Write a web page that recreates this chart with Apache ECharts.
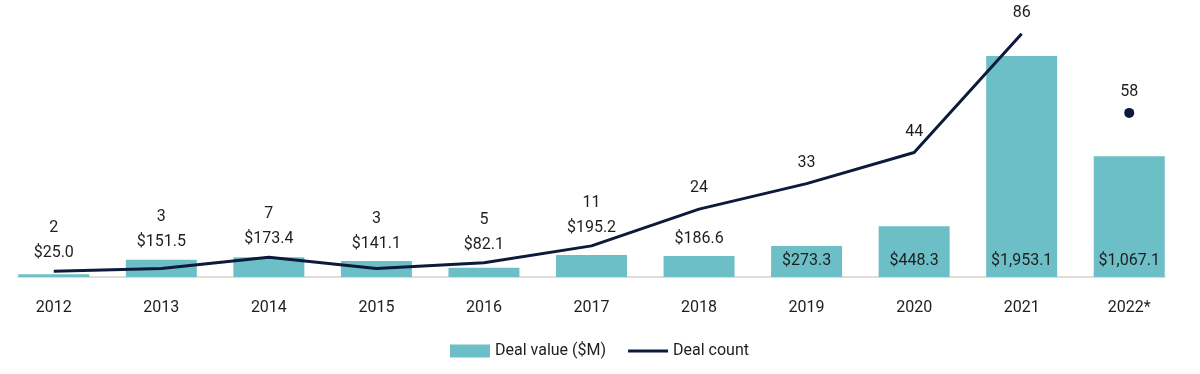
<!DOCTYPE html>
<html><head><meta charset="utf-8">
<script src="https://cdn.jsdelivr.net/npm/echarts@6/dist/echarts.min.js"></script>
<style>html,body{margin:0;padding:0;background:#fff}#c{width:1200px;height:374px}</style>
</head><body><div id="c"></div>
<script>
const categories = ['2012','2013','2014','2015','2016','2017','2018','2019','2020','2021','2022*'];
const dealValue = [25.0,151.5,173.4,141.1,82.1,195.2,186.6,273.3,448.3,1953.1,1067.1];
const dealCount = [2,3,7,3,5,11,24,33,44,86,58];

const BAR_MAX = 2200, LINE_MAX = 88, PLOT_H = 249;
const INSIDE_MIN = 250, MERGE_PX = 20;
const FONT = 'Roboto, "Noto Sans", sans-serif';
const TXT = '#1e1e1e';
const NAVY = '#0d1a3c';
const fmt = v => '$' + v.toLocaleString('en-US', {minimumFractionDigits:1, maximumFractionDigits:1});
const partial = categories.map(c => c.endsWith('*'));

const barData = [], lineData = [], dotData = [], countLabelData = [];
dealValue.forEach((v, i) => {
  const c = dealCount[i];
  const barPx = v / BAR_MAX * PLOT_H, linePx = c / LINE_MAX * PLOT_H;
  const inside = v >= INSIDE_MIN;
  const merge = !inside && !partial[i] && Math.abs(barPx - linePx) < MERGE_PX;
  let barLabel = {show:false}, cntLabel = {show:false};
  if (inside) {
    barLabel = {show:true, position:'insideBottom', distance:4, formatter: fmt(v)};
  } else if (!merge) {
    barLabel = {show:true, position:'top', distance:4, formatter: fmt(v)};
  }
  if (merge) {
    const lbl = {show:true, position:'top', distance:5, formatter: c + '\n' + fmt(v)};
    if (barPx > linePx) barLabel = lbl; else cntLabel = lbl;
  } else {
    cntLabel = {show:true, position:'top', distance:8, formatter: String(c)};
  }
  barData.push({value: v, label: barLabel});
  countLabelData.push({value: c, label: cntLabel});
  lineData.push(partial[i] ? null : c);
  dotData.push(partial[i] ? c : null);
});

const labelBase = {fontFamily: FONT, fontSize: 16, color: TXT, lineHeight: 25, opacity: 1};
const chart = echarts.init(document.getElementById('c'));
chart.setOption({
  animation: false,
  textStyle: {fontFamily: FONT},
  grid: [
    {left: 0, right: 17, top: 28, bottom: 97},
    {left: 18, right: 35, top: 28, bottom: 97}
  ],
  xAxis: [
    {type:'category', data: categories, gridIndex:0, axisLine:{show:false}, axisTick:{show:false},
     axisLabel:{fontFamily: FONT, fontSize: 16, color: TXT, margin: 23}},
    {type:'value', gridIndex:1, min:0, max:1, axisLine:{show:true, onZero:false, lineStyle:{color:'#d4d2cc', width:1.5}},
     axisTick:{show:false}, axisLabel:{show:false}, splitLine:{show:false}}
  ],
  yAxis: [
    {type:'value', gridIndex:0, min:0, max:BAR_MAX, show:false, splitLine:{show:false}},
    {type:'value', gridIndex:0, min:0, max:LINE_MAX, show:false, splitLine:{show:false}},
    {type:'value', gridIndex:1, min:0, max:1, show:false}
  ],
  legend: {
    top: 338, left: 445, itemWidth: 40, itemHeight: 13, itemGap: 22,
    textStyle: {fontFamily: FONT, fontSize: 16, color: TXT},
    data: [
      {name:'Deal value ($M)', icon:'rect'},
      {name:'Deal count', icon:'path://M0,0H40V3H0Z', itemStyle:{color:NAVY}}
    ]
  },
  series: [
    {name:'Deal value ($M)', type:'bar', data: barData, barWidth:'66%', xAxisIndex:0, yAxisIndex:0,
     itemStyle:{color:'#6cbfc6'}, label: labelBase, z: 2},
    {name:'Deal count', type:'line', data: lineData, xAxisIndex:0, yAxisIndex:1, symbol:'none',
     lineStyle:{color:NAVY, width:3}, itemStyle:{color:NAVY}, z: 3},
    {name:'Deal count (partial)', type:'scatter', data: dotData, xAxisIndex:0, yAxisIndex:1, symbol:'circle',
     symbolSize: 10, itemStyle:{color:NAVY, opacity:1}, z: 3},
    {name:'Deal count labels', type:'scatter', data: countLabelData, xAxisIndex:0, yAxisIndex:1, symbol:'circle',
     symbolSize: 1, itemStyle:{color:'rgba(0,0,0,0)', opacity:1}, label: labelBase, z: 4, silent: true}
  ]
});
</script></body></html>
